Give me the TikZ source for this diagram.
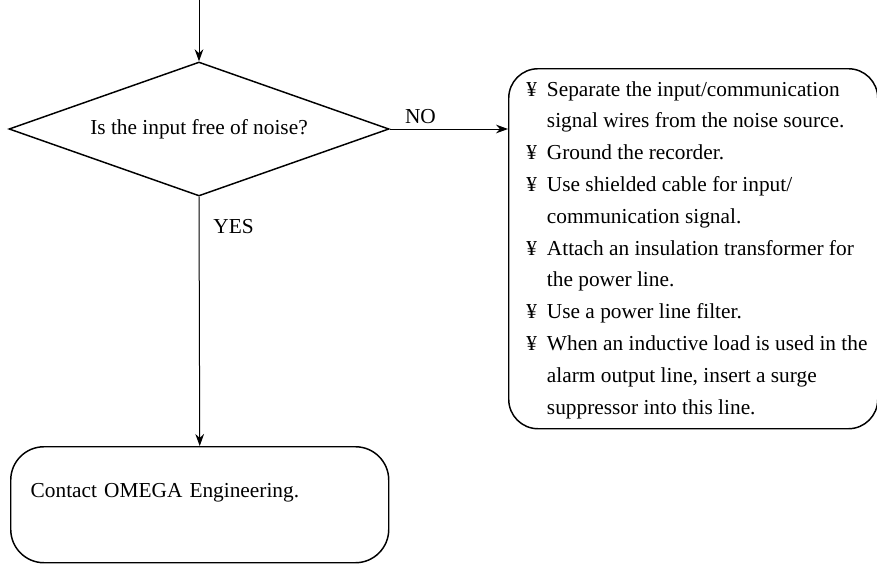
\documentclass[tikz,border=0pt]{standalone}
\usepackage{fontspec}
\setmainfont{Liberation Serif}
\usetikzlibrary{arrows.meta,positioning,shapes.geometric}

\begin{document}
\begin{tikzpicture}[
  x=0.75pt, y=-0.75pt,
  >={Stealth[length=9pt,width=6.5pt]},
  font=\fontsize{16}{23.85}\selectfont,
  decision/.style={draw, diamond, line width=1.1pt, aspect=2.84,
                   minimum width=285pt, minimum height=100.5pt, inner sep=2pt},
  fixbox/.style={draw, rounded corners=22pt, line width=1.1pt,
                 minimum width=276.75pt, minimum height=270pt,
                 inner xsep=6pt, anchor=north west},
  endbox/.style={draw, rounded corners=25pt, line width=1.1pt,
                 text width=253.5pt, inner xsep=15pt, align=left,
                 minimum height=87pt, text height=11pt, text depth=21.5pt,
                 anchor=north west},
  flow/.style={->, line width=0.75pt},
]
  \useasboundingbox (0,0) rectangle (877,564);

  % entry
  \coordinate (in) at (199,0);

  % decision
  \node[decision] (noise) at (199,129) {Is the input free of noise?};
  \draw[flow] (in) -- (noise.north);

  % remedies (NO branch)
  \node[fixbox] (fix) at (508,68) {%
    \begin{tabular}{@{\hspace{5.5pt}}l@{\hspace{7.5pt}}l@{}}
      ¥ & Separate the input/communication\\
        & signal wires from the noise source.\\
      ¥ & Ground the recorder.\\
      ¥ & Use shielded cable for input/\\
        & communication signal.\\
      ¥ & Attach an insulation transformer for\\
        & the power line.\\
      ¥ & Use a power line filter.\\
      ¥ & When an inductive load is used in the\\
        & alarm output line, insert a surge\\
        & suppressor into this line.
    \end{tabular}};
  \draw[flow] (noise.east) --
     node[pos=0.26, above] (no) {NO} (noise.east -| fix.west);

  % contact (YES branch)
  \node[endbox] (done) at (10,446) {Contact OMEGA Engineering.};
  \draw[flow] (noise.south) --
     node[pos=0.12, right, xshift=7pt] (yes) {YES} (done.north);
\end{tikzpicture}
\end{document}
